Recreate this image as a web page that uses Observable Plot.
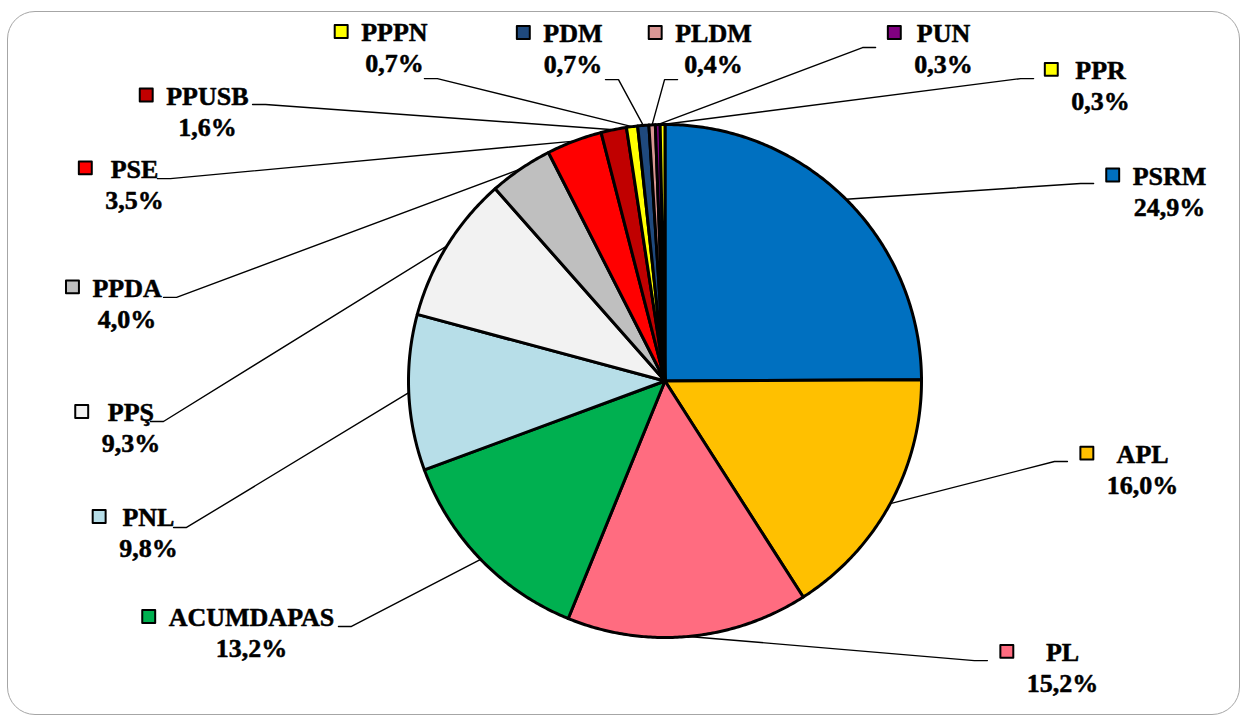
<!DOCTYPE html>
<html><head><meta charset="utf-8">
<script src="https://cdn.jsdelivr.net/npm/d3@7"></script>
<script src="https://cdn.jsdelivr.net/npm/@observablehq/plot@0.6"></script>
<style>
html,body{margin:0;padding:0;background:#fff;}
#wrap{position:relative;width:1248px;height:715px;overflow:hidden;background:#fff;}
#frame{position:absolute;left:7px;top:11px;width:1231px;height:702px;border:1.5px solid #a6a6a6;border-radius:28px;pointer-events:none;}
</style></head><body>
<div id="wrap"><div id="chart"></div><div id="frame"></div></div>
<script>
// ---- data ----
const parties = ["PSRM","APL","PL","ACUMDAPAS","PNL","PPŞ","PPDA","PSE","PPUSB","PPPN","PDM","PLDM","PUN","PPR"];
const shares  = [24.9, 16.0, 15.2, 13.2, 9.8, 9.3, 4.0, 3.5, 1.6, 0.7, 0.7, 0.4, 0.3, 0.3];
const colors  = ["#0070C0","#FFC000","#FF6C80","#00B050","#B7DEE8","#F2F2F2","#BFBFBF","#FF0000","#C00000","#FFFF00","#1F497D","#D99694","#800080","#FFFF00"];

// ---- label layout (in pie-radius units, relative to the pie centre) ----
const labelX  = [1.967, 1.862, 1.550, -1.612, -2.014, -2.082, -2.097, -2.068, -1.784, -1.055, -0.359, 0.189, 1.086, 1.698];
const labelY  = [0.797, -0.287, -1.060, -0.924, -0.534, -0.125, 0.361, 0.825, 1.109, 1.357, 1.353, 1.353, 1.353, 1.209];
const leaderX = [1.671, 1.569, 1.257, -1.273, -1.916, -2.006, -1.955, -1.979, -1.608, -0.938, -0.232, 0.049, 0.821, 1.437];
const leaderY = [0.770, -0.314, -1.090, -0.957, -0.571, -0.158, 0.326, 0.789, 1.078, 1.179, 1.175, 1.175, 1.300, 1.179];

const W = 1248, H = 715, mL = 408, mR = 327, mT = 124, mB = 78;
const unit = (W - mL - mR) / 2;       // px per radius unit
const FONT = "Liberation Serif";
const FS = 26;
const LINE = 31 / unit;
const STUB = 13 / unit;

const total = d3.sum(shares);
let acc = 0;
const slices = parties.map((name, i) => {
  const a0 = acc / total * 2 * Math.PI;
  acc += shares[i];
  const a1 = acc / total * 2 * Math.PI;
  return {name, value: shares[i], color: colors[i], a0, a1, i};
});
const pt = (a, r = 1) => ({x: r * Math.sin(a), y: r * Math.cos(a)});

const slicePts = slices.map(s => {
  const n = Math.max(2, Math.ceil((s.a1 - s.a0) / (Math.PI / 360)));
  const pts = [{x: 0, y: 0}];
  for (let k = 0; k <= n; k++) pts.push(pt(s.a0 + (s.a1 - s.a0) * k / n));
  pts.push({x: 0, y: 0});
  return pts;
});

const leaderPts = [];
slices.forEach((s, i) => {
  const e = pt((s.a0 + s.a1) / 2);
  const sx = leaderX[i], sy = leaderY[i];
  const bx = sx > labelX[i] ? sx + STUB : sx - STUB;
  leaderPts.push({name: s.name, x: e.x, y: e.y});
  leaderPts.push({name: s.name, x: bx, y: sy});
  leaderPts.push({name: s.name, x: sx, y: sy});
});

const ctx = document.createElement("canvas").getContext("2d");
ctx.font = `bold ${FS}px "${FONT}"`;
const labels = slices.map((s, i) => {
  const pct = s.value.toFixed(1).replace(".", ",") + "%";
  const w = Math.max(ctx.measureText(s.name).width, ctx.measureText(pct).width);
  return {
    name: s.name, pct, color: s.color,
    lx: labelX[i], ly: labelY[i], py: labelY[i] - LINE,
    sx: labelX[i] - (w / 2 + 20) / unit, sy: labelY[i] + 1.5 / unit
  };
});

const textOpts = {fontSize: FS, fontWeight: "bold", fontFamily: FONT, fill: "#000", stroke: "#000", strokeWidth: 0.5};

const chart = Plot.plot({
  width: W, height: H,
  marginLeft: mL, marginRight: mR, marginTop: mT, marginBottom: mB,
  style: {background: "transparent", overflow: "visible", fontFamily: FONT},
  x: {domain: [-1, 1], axis: null},
  y: {domain: [-1, 1], axis: null},
  color: {type: "identity"},
  marks: [
    ...slicePts.map((pts, i) => Plot.line(pts, {x: "x", y: "y", fill: colors[i], stroke: "#000", strokeWidth: 3, strokeLinejoin: "round"})),
    Plot.line(leaderPts, {x: "x", y: "y", z: "name", stroke: "#000", strokeWidth: 1.4}),
    Plot.dot(labels, {x: "sx", y: "sy", symbol: "square", r: 7.3, fill: "color", stroke: "#000", strokeWidth: 2, strokeLinejoin: "round"}),
    Plot.text(labels, {x: "lx", y: "ly", text: "name", ...textOpts}),
    Plot.text(labels, {x: "lx", y: "py", text: "pct", ...textOpts})
  ]
});
document.getElementById("chart").appendChild(chart);
</script>
</body></html>
